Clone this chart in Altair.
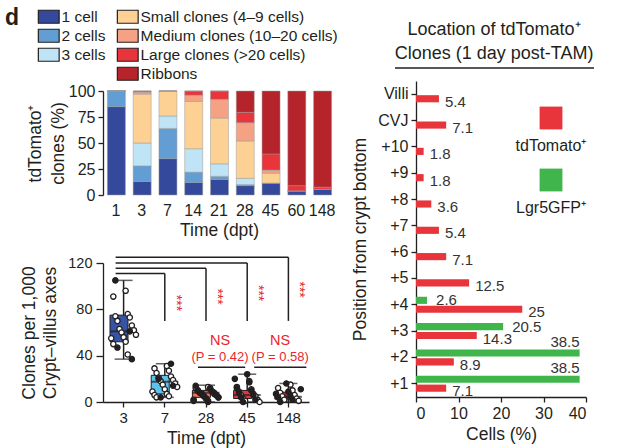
import altair as alt
import pandas as pd

FONT = "Liberation Sans"
INK = "#231f20"
RED_TXT = "#e8262d"

# ---------------- clone-size composition over time ----------------
days = ["1", "3", "7", "14", "21", "28", "45", "60", "148"]
size_classes = [
    "1 cell", "2 cells", "3 cells",
    "Small clones (4–9 cells)", "Medium clones (10–20 cells)",
    "Large clones (>20 cells)", "Ribbons",
]
size_colors = ["#34499b", "#629dd4", "#bfe4f5", "#fdd193", "#f4a184", "#e8353c", "#b5232b"]
pct_1cell = [85, 13, 35, 12, 15, 9, 11.5, 4, 5.5]
pct_2cells = [15, 15, 29, 10, 3, 1, 0, 0, 0]
pct_3cells = [0, 22, 12, 22.5, 12, 6, 0, 0, 0]
pct_small = [0, 47, 24, 45.5, 44, 36, 9.5, 0, 0]
pct_medium = [0, 2, 0, 6, 18, 17.5, 3, 0, 0]
pct_large = [0, 1, 0, 4, 8, 10, 15.5, 5, 2]
pct_ribbons = [0, 0, 0, 0, 0, 20.5, 60.5, 91, 92.5]

# ---------------- clone density per time point ----------------
groups = ["3", "7", "28", "45", "148"]
box_colors = ["#3753a4", "#5ec3ec", "#f0714f", "#e8353c", "#b5232b"]
q1 = [52, 7, 4, 3, 2.5]
median = [61, 17.5, 8, 6, 4.5]
q3 = [75, 23, 10, 10, 8.5]
whisk_lo = [37, 4, 0, 0, 0]
whisk_hi = [105, 33, 14.5, 24, 16]
open_pts = {
    "3": [96, 91, 76, 74, 73, 70, 66, 63, 62, 60, 58, 56, 55, 52, 50, 41],
    "7": [31, 29, 27, 25, 22, 21, 19, 18, 16, 15, 13, 11, 9, 7, 6, 5, 4],
    "28": [13, 12, 11, 10, 9, 8, 8, 7, 6, 5, 4, 3, 2, 1],
    "45": [18, 13, 11, 9, 7, 6, 5, 3, 2, 1, 0],
    "148": [15, 12, 10, 8, 6, 5, 3, 2, 1],
}
filled_pts = {
    "3": [105, 61, 47, 37],
    "7": [33, 20, 14, 4],
    "28": [14, 12, 10, 9, 8, 7, 7, 6, 5, 4, 3, 1, 0],
    "45": [24, 20, 17, 12, 10, 8, 6, 4, 2, 0],
    "148": [16, 11, 9, 7, 5, 4, 2, 0],
}
sig_targets = ["7", "28", "45", "148"]
sig_levels = [111, 115.5, 120, 125]
sig_star_y = [85.5, 91, 94, 97]
ns_pairs = [("28", "45"), ("45", "148")]
ns_pvalues = ["(P = 0.42)", "(P = 0.58)"]

# ---------------- position of labelled cells ----------------
positions = ["Villi", "CVJ", "+10", "+9", "+8", "+7", "+6", "+5", "+4", "+3", "+2", "+1"]
tdtomato_pct = [5.4, 7.1, 1.8, 1.8, 3.6, 5.4, 7.1, 12.5, 25, 14.3, 8.9, 7.1]
lgr5_positions = ["+4", "+3", "+2", "+1"]
lgr5_pct = [2.6, 20.5, 38.5, 38.5]
TD = "tdTomato⁺"
LG = "Lgr5GFP⁺"
loc_title = ["Location of tdTomato⁺", "Clones (1 day post-TAM)"]

# ======================= panel: stacked composition =======================
series = [pct_1cell, pct_2cells, pct_3cells, pct_small, pct_medium, pct_large, pct_ribbons]
comp = pd.DataFrame(
    [{"day": d, "cls": c, "rank": i, "pct": v}
     for i, (c, vals) in enumerate(zip(size_classes, series))
     for d, v in zip(days, vals)]
)

RECT = "M-1.6,-1H1.6V1H-1.6Z"

comp_base = (
    alt.Chart(comp)
    .transform_window(top="sum(pct)", groupby=["day"], sort=[alt.SortField("rank")], frame=[None, 0])
    .transform_calculate(bottom="datum.top - datum.pct")
)
x_days = alt.X(
    "day:N", sort=days,
    scale=alt.Scale(paddingInner=0.34, paddingOuter=0.17),
    axis=alt.Axis(title="Time (dpt)", labelAngle=0, domain=False, ticks=False,
                  labelPadding=7, titlePadding=3, labelFontSize=16),
)
y_pct = alt.Y(
    "bottom:Q", scale=alt.Scale(domain=[0, 100], nice=False),
    axis=alt.Axis(values=[0, 25, 50, 75, 100], title=["tdTomato⁺", "clones (%)"],
                  titlePadding=1, labelPadding=3, titleLineHeight=23, labelFontSize=16),
)


def comp_layer(classes, colors, lx):
    return comp_base.transform_filter(
        alt.FieldOneOfPredicate(field="cls", oneOf=classes)
    ).mark_bar(stroke="#9a9a9a", strokeWidth=0.5).encode(
        x=x_days, y=y_pct, y2="top:Q",
        color=alt.Color(
            "cls:N", scale=alt.Scale(domain=classes, range=colors),
            legend=alt.Legend(
                title=None, orient="none", legendX=lx, legendY=-82,
                symbolType=RECT, symbolSize=169, symbolStrokeColor=INK,
                symbolStrokeWidth=1.2, symbolOpacity=1, labelFontSize=15.5,
                labelOffset=5, rowPadding=0, labelColor=INK, labelLimit=0,
            ),
        ),
    )


panel_label = alt.Chart(pd.DataFrame({"t": ["d"]})).mark_text(
    fontSize=23, fontWeight="bold", color=INK, align="left", baseline="middle"
).encode(text="t:N", x=alt.value(-98), y=alt.value(-73))

top = alt.layer(
    comp_layer(size_classes[:3], size_colors[:3], -62),
    comp_layer(size_classes[3:], size_colors[3:], 17),
    panel_label,
).resolve_scale(color="independent").properties(width=232, height=104)

# ======================= panel: box plots =======================
stats = pd.DataFrame({"day": groups, "q1": q1, "med": median, "q3": q3,
                      "lo": whisk_lo, "hi": whisk_hi, "col": box_colors})
pts = pd.DataFrame(
    [{"day": g, "val": v, "kind": "open"} for g in groups for v in open_pts[g]]
    + [{"day": g, "val": v, "kind": "filled"} for g in groups for v in filled_pts[g]]
)

x_grp = alt.X(
    "day:N", sort=groups, scale=alt.Scale(domain=groups, paddingInner=0, paddingOuter=0),
    axis=alt.Axis(title="Time (dpt)", labelAngle=0, labelPadding=3, titlePadding=4, labelFontSize=15),
)
y_cl = alt.Y(
    "q1:Q", scale=alt.Scale(domain=[0, 120], nice=False),
    axis=alt.Axis(values=[0, 20, 40, 60, 80, 100, 120], title=["Clones per 1,000", "Crypt–villus axes"],
                  titlePadding=8, labelPadding=4, titleLineHeight=21, tickSize=7, labelFontSize=14.5),
)

sb = alt.Chart(stats)
whiskers = sb.mark_rule(color=INK, strokeWidth=1.5).encode(x=x_grp, y=alt.Y("lo:Q"), y2="hi:Q")
boxes = sb.mark_bar(width=alt.RelativeBandSize(0.66), stroke=INK, strokeWidth=1).encode(
    x=x_grp, y=y_cl, y2="q3:Q", color=alt.Color("col:N", scale=None))
medians = sb.mark_tick(color=INK, thickness=2, size=27).encode(x=x_grp, y="med:Q")
cap_hi = sb.mark_tick(color=INK, thickness=1.5, size=18).encode(x=x_grp, y="hi:Q")
cap_lo = sb.mark_tick(color=INK, thickness=1.5, size=18).encode(x=x_grp, y="lo:Q")

points = alt.Chart(pts).transform_window(
    idx="row_number()", groupby=["day"]
).transform_calculate(
    jit="((datum.idx * 7) % 13) / 10 - 0.6"
).mark_point(shape="circle", filled=True, size=28, stroke=INK, strokeWidth=1.3, opacity=1).encode(
    x=x_grp,
    xOffset=alt.XOffset("jit:Q", scale=alt.Scale(domain=[-1, 1])),
    y="val:Q",
    fill=alt.Fill("kind:N", scale=alt.Scale(domain=["open", "filled"], range=["white", INK]), legend=None),
)

sig = pd.DataFrame({"src": groups[0], "tgt": sig_targets, "lvl": sig_levels,
                    "drop": 70, "star": sig_star_y})
sig_h = alt.Chart(sig).mark_rule(color=INK, strokeWidth=1.5, xOffset=-8).encode(
    x=alt.X("src:N", sort=groups), x2="tgt:N", y="lvl:Q")
sig_v = alt.Chart(sig).mark_rule(color=INK, strokeWidth=1.5).encode(
    x=alt.X("tgt:N", sort=groups), y="drop:Q", y2="lvl:Q")
sig_t = alt.Chart(sig).mark_text(text="***", angle=90, color=RED_TXT, fontSize=14,
                                  xOffset=11, baseline="middle").encode(
    x=alt.X("tgt:N", sort=groups), y="star:Q")

ns = pd.DataFrame({"a": [p[0] for p in ns_pairs], "b": [p[1] for p in ns_pairs],
                   "lvl": 30, "p": ns_pvalues})
ns_layers = []
for i, (off_a, off_b, dx) in enumerate([(-8, -2, 14), (7, 18, 33)]):
    one = alt.Chart(ns).transform_filter(alt.datum.p == ns_pvalues[i])
    ns_layers.append(one.mark_rule(color=INK, strokeWidth=1.5, xOffset=off_a, x2Offset=off_b).encode(
        x=alt.X("a:N", sort=groups), x2="b:N", y="lvl:Q"))
    ns_layers.append(one.mark_text(text="NS", color=RED_TXT, fontSize=14.5, dx=dx, dy=-26).encode(
        x=alt.X("a:N", sort=groups), y="lvl:Q"))
    ns_layers.append(one.mark_text(color=RED_TXT, fontSize=13, dx=dx, dy=-10).encode(
        x=alt.X("a:N", sort=groups), y="lvl:Q", text="p:N"))

bottom = alt.layer(whiskers, boxes, medians, cap_hi, cap_lo, points,
                   sig_h, sig_v, sig_t, *ns_layers).properties(width=206, height=139)

# ======================= panel: position of cells =======================
loc = pd.DataFrame(
    [{"pos": p, "series": TD, "pct": v} for p, v in zip(positions, tdtomato_pct)]
    + [{"pos": p, "series": LG, "pct": v} for p, v in zip(lgr5_positions, lgr5_pct)]
)
# band range starts a little above the view origin so the rows sit higher
y_pos = alt.Y("pos:N", sort=positions,
              scale=alt.Scale(domain=positions, paddingInner=0.39, paddingOuter=0.2, range=[-10, 306]),
              axis=alt.Axis(title="Position from crypt bottom", labelPadding=3, titlePadding=8, labelFontSize=16))
y_off = alt.YOffset("series:N", sort=[LG, TD], scale=alt.Scale(domain=[LG, TD], paddingInner=0.2))
x_pct = alt.X("pct:Q", scale=alt.Scale(domain=[0, 40], nice=False),
              axis=alt.Axis(values=[0, 10, 20, 30, 40], title="Cells (%)", labelPadding=3,
                            titlePadding=4, labelFontSize=16))

lb = alt.Chart(loc)
loc_bars = lb.mark_bar().encode(
    x=x_pct, y=y_pos, yOffset=y_off,
    color=alt.Color("series:N", scale=alt.Scale(domain=[TD, LG], range=["#e8353c", "#3fb54b"]), legend=None),
)
lab_td = lb.transform_filter(alt.datum.series == TD).mark_text(
    align="left", baseline="middle", dx=6, dy=3, fontSize=15, color="#333333").encode(
    x=x_pct, y=y_pos, yOffset=y_off, text="pct:Q")
lab_lg_short = lb.transform_filter((alt.datum.series == LG) & (alt.datum.pct < 30)).mark_text(
    align="left", baseline="middle", dx=9, dy=0, fontSize=15, color="#333333").encode(
    x=x_pct, y=y_pos, yOffset=y_off, text="pct:Q")
lab_lg_long = lb.transform_filter((alt.datum.series == LG) & (alt.datum.pct >= 30)).mark_text(
    align="right", baseline="middle", dx=0, dy=-11, fontSize=15, color="#333333").encode(
    x=x_pct, y=y_pos, yOffset=y_off, text="pct:Q")

# key: coloured square with its label underneath
key_layers = []
for name, colr, sy in [(TD, "#e8353c", 27), (LG, "#3fb54b", 89)]:
    kd = alt.Chart(pd.DataFrame({"series": [name]}))
    key_layers.append(kd.mark_square(size=520, color=colr, opacity=1).encode(
        x=alt.value(135), y=alt.value(sy)))
    key_layers.append(kd.mark_text(fontSize=16, color=INK, baseline="middle").encode(
        x=alt.value(135), y=alt.value(sy + 28), text="series:N"))

# heading over the panel, underlined
head = alt.Chart(pd.DataFrame({"line": loc_title, "n": [0, 1]}))
head_layers = [
    head.transform_filter(alt.datum.n == i).mark_text(
        fontSize=18, color=INK, baseline="middle", align="center").encode(
        x=alt.value(78), y=alt.value(yy), text="line:N")
    for i, yy in enumerate([-61, -37])
]
underline = alt.Chart(pd.DataFrame({"k": [0]})).mark_rule(color=INK, strokeWidth=1.5).encode(
    x=alt.value(-21), x2=alt.value(178), y=alt.value(-23))

right = alt.layer(loc_bars, lab_td, lab_lg_short, lab_lg_long, underline,
                  *head_layers, *key_layers).properties(width=170, height=306)

chart = alt.concat(
    alt.vconcat(top, bottom, spacing=16),
    right,
    columns=2,
    align="none",
    spacing=13,
).properties(
    padding={"left": 5, "top": 7, "right": 5, "bottom": 5}
).configure_view(stroke=None).configure_axis(
    labelFont=FONT, titleFont=FONT, labelColor=INK, titleColor=INK,
    domainColor=INK, tickColor=INK, labelFontSize=15.5, titleFontSize=17.5,
    titleFontWeight="normal", grid=False, domainWidth=1.3, tickWidth=1.3, tickSize=5,
).configure_legend(labelFont=FONT).configure_text(font=FONT)

chart.save("out.html", embed_options={"renderer": "svg", "actions": False})
